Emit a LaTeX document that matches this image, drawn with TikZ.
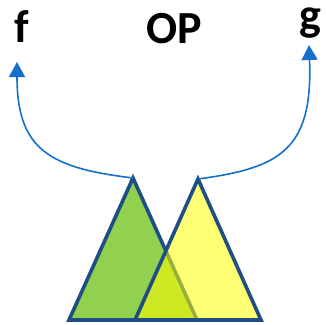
\documentclass[tikz,border=0pt]{standalone}
\usepackage{fontspec}
\setmainfont{Carlito}
\usepackage{xcolor}
\usepackage{tikz}
\usetikzlibrary{positioning,arrows.meta}
\definecolor{opedge}{HTML}{1F4E85}
\definecolor{opgreen}{HTML}{92D050}
\definecolor{opyellow}{HTML}{FFFF00}
\definecolor{oparrow}{HTML}{1570CD}

\begin{document}
\begin{tikzpicture}[
  x=1pt, y=-1pt,
  lbl/.style={font=\fontsize{46}{50}\selectfont\bfseries, text=black, inner sep=0pt, anchor=base},
  triL/.style={draw=opedge, line width=3.6pt, line join=miter, fill=opgreen},
  triR/.style={draw=opedge, line width=3.6pt, line join=miter, fill=opyellow, fill opacity=0.55, draw opacity=1},
  link/.style={draw=oparrow, line width=1.6pt, -{Triangle[length=15pt,width=16pt]}},
]
\useasboundingbox (0,0) rectangle (326,324);
\def\baseY{320}
% labels
\node[lbl] (f) at (22,42) {f};
\node[lbl] (op) at (174,43) {OP};
\node[lbl, anchor=base west] (g) at (299,30) {g};
% triangles
\coordinate (fTop) at (133,178);
\coordinate (gTop) at (198,179);
\draw[triL] (69,\baseY) -- (fTop) -- (197,\baseY) -- cycle;
\draw[triR] (135,\baseY) -- (gTop) -- (261,\baseY) -- cycle;
% arrow ends
\coordinate (fEnd) at (17,62);
\coordinate (gEnd) at (309,45);
\draw[link] (fTop) .. controls (50,168) and (17,150) .. (fEnd);
\draw[link] (gTop) .. controls (280,168) and (313,150) .. (gEnd);
\end{tikzpicture}
\end{document}
